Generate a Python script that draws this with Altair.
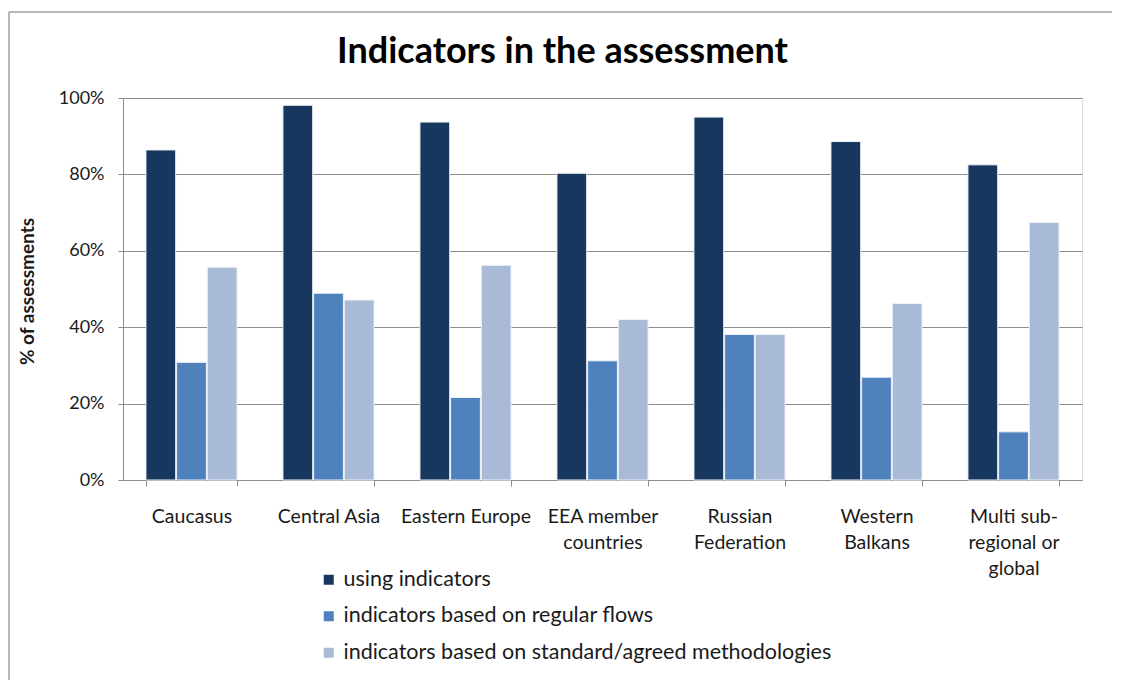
import altair as alt
import pandas as pd

regions = ["Caucasus", "Central Asia", "Eastern Europe", "EEA member\ncountries",
           "Russian\nFederation", "Western\nBalkans", "Multi sub-\nregional or\nglobal"]
series = ["using indicators",
          "indicators based on regular flows",
          "indicators based on standard/agreed methodologies"]
using_indicators = [86.4, 98.1, 93.7, 80.3, 95.0, 88.6, 82.5]
regular_flows = [30.8, 48.9, 21.6, 31.2, 38.1, 26.9, 12.6]
standard_methods = [55.7, 47.1, 56.2, 42.0, 38.1, 46.2, 67.4]
colors = ["#17375E", "#4F81BD", "#A9BAD7"]

rows = []
for vals, s in zip([using_indicators, regular_flows, standard_methods], series):
    for r, v in zip(regions, vals):
        rows.append({"region": r, "series": s, "value": v / 100.0})
df = pd.DataFrame(rows)

FONT = "Lato"
W, H = 959, 382
gray = "#8c8c8c"

bars = alt.Chart(df).mark_bar(stroke="#eef2f8", strokeWidth=1).encode(
    x=alt.X("region:N", sort=regions,
            scale=alt.Scale(paddingInner=0.335, paddingOuter=0.1675),
            axis=alt.Axis(title=None, labelAngle=0, tickBand="extent",
                          labelExpr="split(datum.label, '\\n')",
                          labelFontSize=19.5, labelLineHeight=26, labelPadding=21,
                          labelColor="#1a1a1a", labelFont=FONT,
                          domainColor=gray, tickColor=gray, tickSize=6, grid=False)),
    xOffset=alt.XOffset("series:N", sort=series, scale=alt.Scale(paddingInner=0.03)),
    y=alt.Y("value:Q", scale=alt.Scale(domain=[0, 1], nice=False),
            axis=alt.Axis(values=[0, 0.2, 0.4, 0.6, 0.8, 1.0], format=".0%",
                          labelFontSize=18, labelColor="#1a1a1a", labelFont=FONT,
                          labelPadding=14, tickSize=5, tickColor=gray,
                          domainColor=gray, grid=True, gridColor=gray,
                          title="% of assessments", titleFont=FONT, titleFontSize=19,
                          titleFontWeight="bold", titleColor="#1a1a1a",
                          titleX=-96, titleY=H / 2 + 2, titleAngle=270,
                          titleAlign="center", titleBaseline="middle")),
    color=alt.Color("series:N", sort=series,
                    scale=alt.Scale(domain=series, range=colors),
                    legend=alt.Legend(title=None, orient="none", legendX=195, legendY=471,
                                      direction="vertical", symbolType="square",
                                      symbolSize=100, symbolStrokeWidth=0,
                                      labelFontSize=21.5, labelFont=FONT, labelLimit=0,
                                      labelColor="#1a1a1a", rowPadding=13.5,
                                      labelOffset=4)),
)

frame_df = pd.DataFrame({"f": [0]})
top_line = alt.Chart(frame_df).mark_rule(color="#a0a0a0", strokeWidth=1.5).encode(
    x=alt.value(-114), x2=alt.value(W + 40), y=alt.value(-86))
left_line = alt.Chart(frame_df).mark_rule(color="#a0a0a0", strokeWidth=1.5).encode(
    x=alt.value(-114), y=alt.value(-86), y2=alt.value(H + 220))

chart = alt.layer(top_line, left_line, bars).properties(
    width=W, height=H,
    title=alt.TitleParams("Indicators in the assessment", font=FONT, fontSize=36,
                          fontWeight="bold", color="#000000", anchor="middle",
                          dx=-40, dy=88, offset=0, baseline="alphabetic"),
    autosize=alt.AutoSizeParams(type="none"),
    padding={"left": 115, "top": 90, "right": 30, "bottom": 200},
).configure_view(stroke="transparent").configure(font=FONT)

chart.save("out.html", embed_options={"renderer": "svg", "actions": False})
